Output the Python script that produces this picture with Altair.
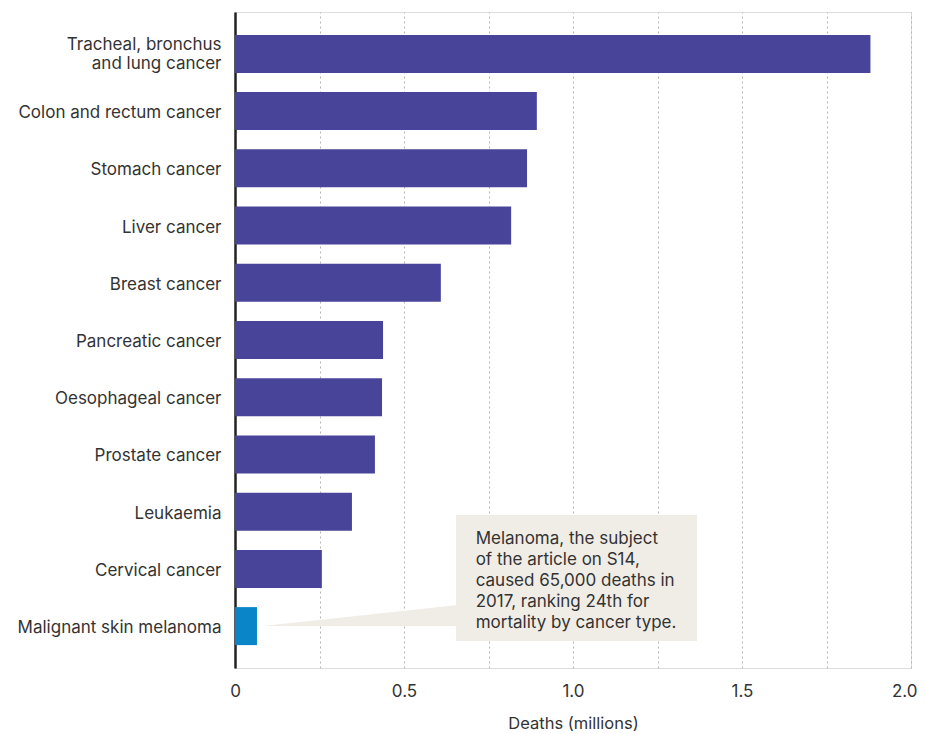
import altair as alt
import pandas as pd

categories = [
    "Tracheal, bronchus and lung cancer",
    "Colon and rectum cancer",
    "Stomach cancer",
    "Liver cancer",
    "Breast cancer",
    "Pancreatic cancer",
    "Oesophageal cancer",
    "Prostate cancer",
    "Leukaemia",
    "Cervical cancer",
    "Malignant skin melanoma",
]
deaths = [1.88, 0.893, 0.864, 0.817, 0.609, 0.438, 0.435, 0.414, 0.346, 0.257, 0.065]
highlight = ["other"] * 10 + ["melanoma"]

note_lines = [
    "Melanoma, the subject",
    "of the article on S14,",
    "caused 65,000 deaths in",
    "2017, ranking 24th for",
    "mortality by cancer type.",
]

FONT = "Inter"
df = pd.DataFrame({"cancer": categories, "deaths": deaths, "group": highlight})

x_scale = alt.Scale(domain=[0, 2], nice=False, zero=True)

bars = alt.Chart(df).mark_bar().encode(
    y=alt.Y(
        "cancer:N",
        sort=categories,
        scale=alt.Scale(paddingInner=0.336, paddingOuter=0.4),
        axis=alt.Axis(
            title=None,
            ticks=False,
            domain=True,
            domainColor="#222222",
            domainWidth=2.5,
            labelFontSize=17,
            labelColor="#333333",
            labelFont=FONT,
            labelPadding=14,
            labelLimit=400,
            labelLineHeight=19,
            labelOffset={"condition": {"test": "datum.value == 'Tracheal, bronchus and lung cancer'", "value": -9}, "value": 2},
            labelExpr="datum.label == 'Tracheal, bronchus and lung cancer' ? ['Tracheal, bronchus', 'and lung cancer'] : datum.label",
        ),
    ),
    x=alt.X(
        "deaths:Q",
        scale=x_scale,
        axis=alt.Axis(
            title="Deaths (millions)",
            values=[0, 0.25, 0.5, 0.75, 1.0, 1.25, 1.5, 1.75, 2.0],
            labelExpr="datum.value == 0 ? '0' : (datum.value % 0.5 == 0 ? format(datum.value, '.1f') : '')",
            labelFlush=False,
            labelAlign={"condition": {"test": "datum.value == 2", "value": "right"}, "value": "center"},
            labelOffset={"condition": {"test": "datum.value == 2", "value": 6}, "value": 0},
            ticks=False,
            domain=False,
            grid=True,
            gridColor="#b5b5b5",
            gridDash=[2, 3],
            gridWidth=1,
            labelFontSize=17,
            labelColor="#333333",
            labelFont=FONT,
            labelPadding=15,
            titleFont=FONT,
            titleFontSize=16.5,
            titleFontWeight="normal",
            titleColor="#333333",
            titlePadding=16,
        ),
    ),
    color=alt.Color(
        "group:N",
        scale=alt.Scale(domain=["other", "melanoma"], range=["#48449a", "#0a85c8"]),
        legend=None,
    ),
)

# Annotation (page-pixel vertical positions via an independent, hidden scale)
py_scale = alt.Scale(domain=[668, 12], nice=False, zero=False)
box_df = pd.DataFrame({"x": [0.654], "x2": [1.367], "y": [515], "y2": [641]})
box = alt.Chart(box_df).mark_rect(color="#f0ede6").encode(
    x=alt.X("x:Q", scale=x_scale),
    x2="x2:Q",
    y=alt.Y("y:Q", scale=py_scale, axis=None),
    y2="y2:Q",
)
tri_df = pd.DataFrame({"x": [0.083, 0.660], "y": [626, 605], "y2": [626, 626]})
tri = alt.Chart(tri_df).mark_area(color="#f0ede6").encode(
    x=alt.X("x:Q", scale=x_scale),
    y=alt.Y("y:Q", scale=py_scale, axis=None),
    y2="y2:Q",
)
txt_df = pd.DataFrame({"x": [0.712], "y": [539], "t": [note_lines]})
txt = alt.Chart(txt_df).mark_text(
    align="left", baseline="middle", fontSize=17, font=FONT, color="#333333", lineHeight=21
).encode(
    x=alt.X("x:Q", scale=x_scale),
    y=alt.Y("y:Q", scale=py_scale, axis=None),
    text="t",
)

annot = alt.layer(box, tri, txt)

chart = (
    alt.layer(bars, annot)
    .resolve_scale(y="independent")
    .properties(width=676, height=656, padding={"top": 4, "left": 9, "right": 0, "bottom": 5})
    .configure_view(stroke=None)
    .configure(font=FONT)
)

chart.save("out.html", embed_options={"renderer": "svg", "actions": False})
